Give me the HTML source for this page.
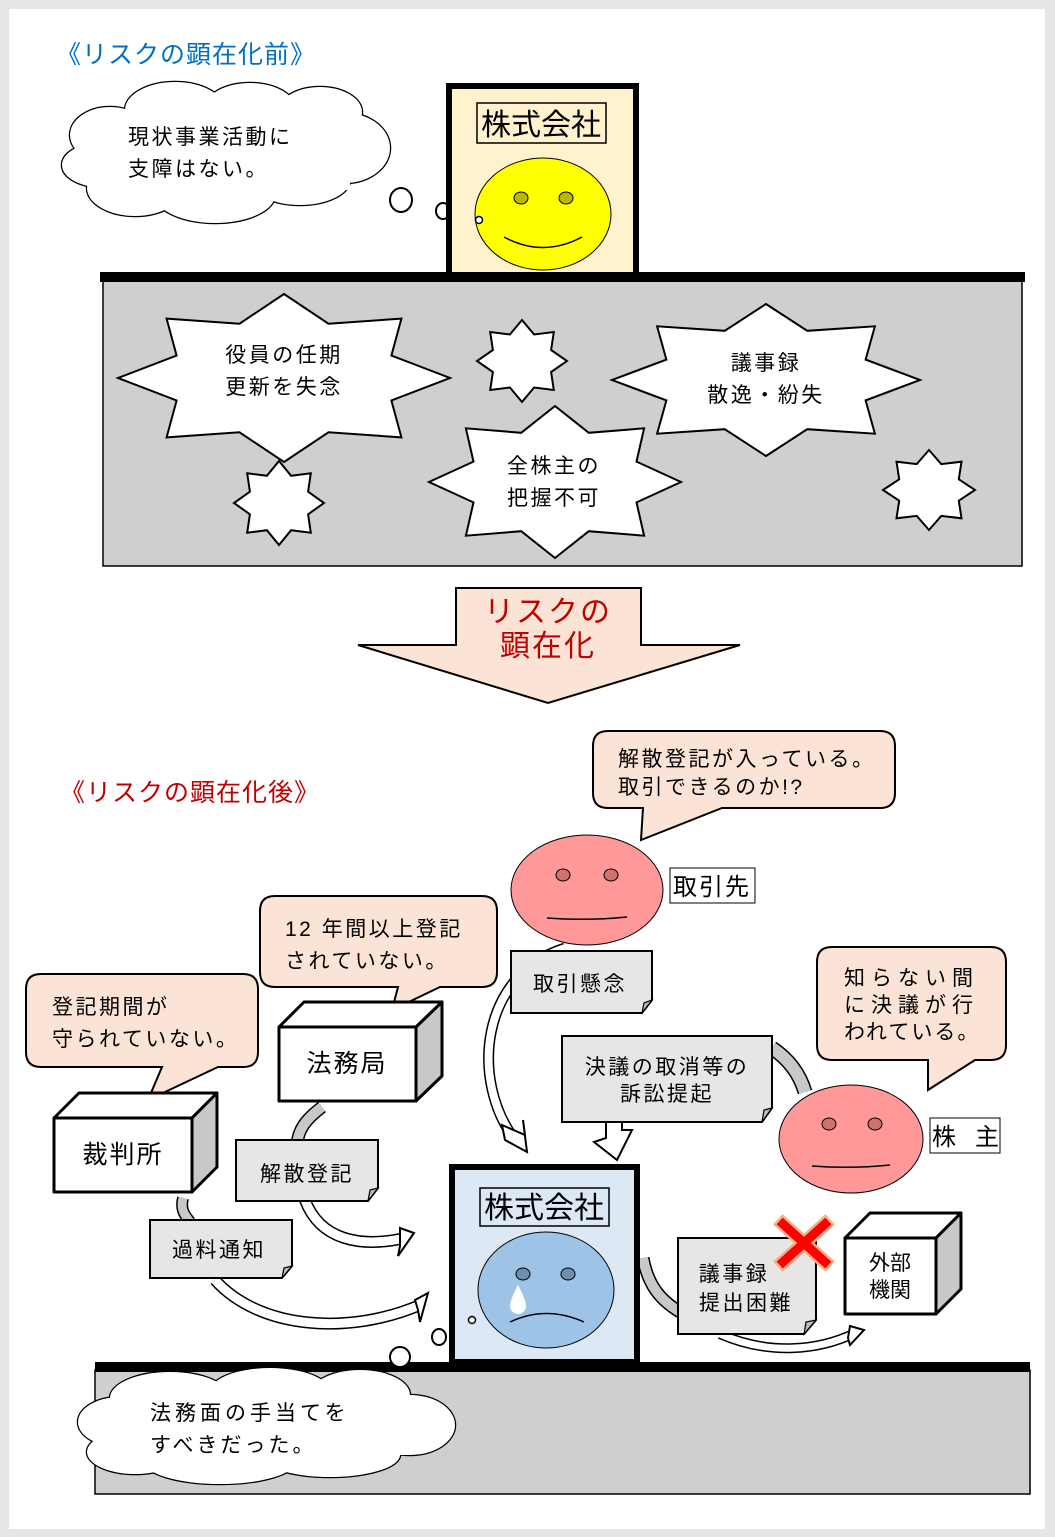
<!DOCTYPE html>
<html><head><meta charset="utf-8">
<style>
html,body{margin:0;padding:0;background:#e6e6e6;}
svg{display:block;}
text{font-family:"Liberation Sans","Noto Sans CJK JP",sans-serif;}
.t{letter-spacing:2.5px;}
</style></head>
<body>
<svg width="1055" height="1537" viewBox="0 0 1055 1537" xmlns="http://www.w3.org/2000/svg">
<rect x="0" y="0" width="1055" height="1537" fill="#e6e6e6"/>
<rect x="9" y="9" width="1036" height="1520" fill="#fff"/>

<!-- TOP -->
<text x="56" y="63" font-size="25" fill="#0070c0" letter-spacing="1">《リスクの顕在化前》</text>

<!-- cloud top -->
<g stroke="#000" stroke-width="2.5" fill="#fff">
<ellipse cx="110" cy="135" rx="40" ry="28"/>
<ellipse cx="100" cy="165" rx="38" ry="22"/>
<ellipse cx="135" cy="188" rx="48" ry="28"/>
<ellipse cx="215" cy="195" rx="60" ry="28"/>
<ellipse cx="300" cy="180" rx="50" ry="25"/>
<ellipse cx="345" cy="148" rx="45" ry="35"/>
<ellipse cx="320" cy="112" rx="42" ry="25"/>
<ellipse cx="250" cy="108" rx="45" ry="25"/>
<ellipse cx="175" cy="110" rx="50" ry="28"/>
</g>
<g fill="#fff">
<ellipse cx="110" cy="135" rx="40" ry="28"/>
<ellipse cx="100" cy="165" rx="38" ry="22"/>
<ellipse cx="135" cy="188" rx="48" ry="28"/>
<ellipse cx="215" cy="195" rx="60" ry="28"/>
<ellipse cx="300" cy="180" rx="50" ry="25"/>
<ellipse cx="345" cy="148" rx="45" ry="35"/>
<ellipse cx="320" cy="112" rx="42" ry="25"/>
<ellipse cx="250" cy="108" rx="45" ry="25"/>
<ellipse cx="175" cy="110" rx="50" ry="28"/>
<rect x="120" y="110" width="230" height="80"/>
</g>
<text class="t" x="128" y="144" font-size="21">現状事業活動に</text>
<text class="t" x="128" y="176" font-size="21">支障はない。</text>
<g fill="#fff" stroke="#000" stroke-width="2">
<ellipse cx="401" cy="200" rx="11" ry="12"/>
<ellipse cx="443" cy="211" rx="7" ry="8"/>
</g>

<!-- door top -->
<rect x="449" y="86" width="187" height="192" fill="#fff2cc" stroke="#000" stroke-width="6"/>
<rect x="477" y="103" width="129" height="40" fill="#fff2cc" stroke="#000" stroke-width="1.5"/>
<text x="541" y="135" font-size="30" text-anchor="middle">株式会社</text>
<ellipse cx="543" cy="214" rx="68" ry="56" fill="#ffff00" stroke="#000" stroke-width="1"/>
<ellipse cx="521" cy="198" rx="7" ry="6" fill="#b8b800" stroke="#000" stroke-width="1"/>
<ellipse cx="566" cy="198" rx="7" ry="6" fill="#b8b800" stroke="#000" stroke-width="1"/>
<path d="M504,237 Q543,258 582,237" fill="none" stroke="#000" stroke-width="1.5"/>
<circle cx="479" cy="220" r="3.5" fill="#fff" stroke="#000" stroke-width="1.5"/>

<!-- ground top -->
<rect x="103" y="281" width="919" height="285" fill="#d0cfd0" stroke="#000" stroke-width="1.5"/>
<rect x="100" y="272" width="925" height="10" fill="#000"/>

<g fill="#fff" stroke="#000" stroke-width="2" stroke-linejoin="miter">
<polygon points="284,294 328.5,323.7 401.4,318.6 391.4,355.5 450,378 391.4,400.5 401.4,437.4 328.5,432.3 284,462 239.5,432.3 166.6,437.4 176.6,400.5 118,378 176.6,355.5 166.6,318.6 239.5,323.7"/>
<polygon points="766,304 807.3,330.8 874.9,326.3 865.6,359.6 920,380 865.6,400.4 874.9,433.7 807.3,429.2 766,456 724.7,429.2 657.1,433.7 666.4,400.4 612,380 666.4,359.6 657.1,326.3 724.7,330.8"/>
<polygon points="555,406 588.8,432.8 644.1,428.3 636.5,461.6 681,482 636.5,502.4 644.1,535.7 588.8,531.2 555,558 521.2,531.2 465.9,535.7 473.5,502.4 429,482 473.5,461.6 465.9,428.3 521.2,432.8"/>
<polygon points="522,320 534.1,334.5 553.8,332 551.1,350 567,361 551.1,372 553.8,390 534.1,387.5 522,402 509.9,387.5 490.2,390 492.9,372 477,361 492.9,350 490.2,332 509.9,334.5"/>
<polygon points="279,461 291.1,475.8 310.8,473.3 308.1,491.7 324,503 308.1,514.3 310.8,532.7 291.1,530.2 279,545 266.9,530.2 247.2,532.7 249.9,514.3 234,503 249.9,491.7 247.2,473.3 266.9,475.8"/>
<polygon points="929,450 941.3,464.1 961.5,461.7 958.8,479.3 975,490 958.8,500.7 961.5,518.3 941.3,515.9 929,530 916.7,515.9 896.5,518.3 899.2,500.7 883,490 899.2,479.3 896.5,461.7 916.7,464.1"/>
</g>
<g font-size="21" text-anchor="middle" class="t">
<text x="284" y="362">役員の任期</text>
<text x="284" y="394">更新を失念</text>
<text x="766" y="370">議事録</text>
<text x="766" y="402">散逸・紛失</text>
<text x="554" y="473">全株主の</text>
<text x="554" y="505">把握不可</text>
</g>

<!-- big arrow -->
<polygon points="456,588 641,588 641,645 740,645 548,703 358,645 456,645" fill="#fbe4d5" stroke="#000" stroke-width="2"/>
<text x="548" y="622" font-size="30" fill="#c00000" text-anchor="middle" letter-spacing="2">リスクの</text>
<text x="548" y="656" font-size="30" fill="#c00000" text-anchor="middle" letter-spacing="2">顕在化</text>

<!-- BOTTOM -->
<text x="60" y="801" font-size="25" fill="#c00000" letter-spacing="1">《リスクの顕在化後》</text>

<!-- callouts -->
<g fill="#fbe4d5" stroke="#000" stroke-width="2">
<path d="M608,731 H880 Q895,731 895,746 V793 Q895,808 880,808 H722 L641,840 L643,808 H608 Q593,808 593,793 V746 Q593,731 608,731 Z"/>
<path d="M275,896 H482 Q497,896 497,911 V972 Q497,987 482,987 H440 L392,1010 L398,987 H275 Q260,987 260,972 V911 Q260,896 275,896 Z"/>
<path d="M41,974 H243 Q258,974 258,989 V1052 Q258,1067 243,1067 H218 L148,1100 L162,1067 H41 Q26,1067 26,1052 V989 Q26,974 41,974 Z"/>
<path d="M832,947 H991 Q1006,947 1006,962 V1045 Q1006,1060 991,1060 H975 L928,1090 L928,1060 H832 Q817,1060 817,1045 V962 Q817,947 832,947 Z"/>
</g>
<text class="t" x="618" y="766" font-size="21">解散登記が入っている。</text>
<text class="t" x="618" y="794" font-size="21">取引できるのか!?</text>
<text class="t" x="285" y="936" font-size="21">12 年間以上登記</text>
<text class="t" x="285" y="968" font-size="21">されていない。</text>
<text class="t" x="52" y="1014" font-size="21">登記期間が</text>
<text class="t" x="52" y="1046" font-size="21">守られていない。</text>
<text x="844" y="985" font-size="21" letter-spacing="6">知らない間</text>
<text x="844" y="1012" font-size="21" letter-spacing="6">に決議が行</text>
<text x="844" y="1039" font-size="21" letter-spacing="2">われている。</text>

<!-- curved connectors -->
<g fill="none" stroke-linecap="butt">
<path d="M565,948 C480,975 470,1080 515,1140" stroke="#000" stroke-width="11"/>
<path d="M565,948 C480,975 470,1080 515,1140" stroke="#fff" stroke-width="8"/>
<path d="M305,1200 C320,1240 360,1248 405,1238" stroke="#000" stroke-width="12"/>
<path d="M305,1200 C320,1240 360,1248 405,1238" stroke="#fff" stroke-width="9"/>
<path d="M215,1280 C260,1330 350,1335 420,1305" stroke="#000" stroke-width="12"/>
<path d="M215,1280 C260,1330 350,1335 420,1305" stroke="#fff" stroke-width="9"/>
<path d="M720,1334 C770,1356 820,1350 855,1333" stroke="#000" stroke-width="10"/>
<path d="M720,1334 C770,1356 820,1350 855,1333" stroke="#fff" stroke-width="7"/>
<path d="M772,1048 C790,1060 800,1075 805,1092" stroke="#000" stroke-width="15"/>
<path d="M772,1048 C790,1060 800,1075 805,1092" stroke="#c8c8c8" stroke-width="12"/>
<path d="M322,1107 C305,1120 298,1130 297,1145" stroke="#000" stroke-width="13"/>
<path d="M322,1107 C305,1120 298,1130 297,1145" stroke="#c8c8c8" stroke-width="10"/>
<path d="M183,1198 C180,1210 185,1215 190,1222" stroke="#000" stroke-width="12"/>
<path d="M183,1198 C180,1210 185,1215 190,1222" stroke="#c8c8c8" stroke-width="9"/>
<path d="M643,1258 C648,1285 660,1300 680,1312" stroke="#000" stroke-width="13"/>
<path d="M643,1258 C648,1285 660,1300 680,1312" stroke="#c8c8c8" stroke-width="10"/>
</g>
<g fill="#fff" stroke="#000" stroke-width="2">
<polygon points="502,1125 525,1135 523,1120 527,1152 505,1140"/>
<polygon points="400,1228 414,1233 398,1256 400,1246"/>
<polygon points="415,1300 428,1293 420,1322 418,1310"/>
<polygon points="850,1326 864,1330 850,1345 848,1338"/>
<polygon points="606,1122 622,1122 622,1130 632,1130 617,1160 594,1142 606,1138"/>
</g>

<!-- pink faces -->
<ellipse cx="587" cy="890" rx="76" ry="55" fill="#ff9999" stroke="#000" stroke-width="1"/>
<ellipse cx="563" cy="875" rx="7" ry="6" fill="#d07070" stroke="#000" stroke-width="1"/>
<ellipse cx="611" cy="875" rx="7" ry="6" fill="#d07070" stroke="#000" stroke-width="1"/>
<path d="M547,918 Q587,921 627,917" fill="none" stroke="#000" stroke-width="1.5"/>
<rect x="670" y="868" width="85" height="35" fill="#fff" stroke="#000" stroke-width="1"/>
<text x="673" y="895" font-size="24" letter-spacing="2">取引先</text>

<ellipse cx="851" cy="1139" rx="72" ry="54" fill="#ff9999" stroke="#000" stroke-width="1"/>
<ellipse cx="829" cy="1124" rx="7" ry="6" fill="#d07070" stroke="#000" stroke-width="1"/>
<ellipse cx="875" cy="1124" rx="7" ry="6" fill="#d07070" stroke="#000" stroke-width="1"/>
<path d="M812,1166 Q851,1169 890,1165" fill="none" stroke="#000" stroke-width="1.5"/>
<rect x="930" y="1118" width="70" height="35" fill="#fff" stroke="#000" stroke-width="1"/>
<text x="932" y="1145" font-size="24">株</text>
<text x="975" y="1145" font-size="24">主</text>

<!-- 3D boxes -->
<g stroke="#000" stroke-width="3" stroke-linejoin="round">
<polygon points="279,1027 304,1002 442,1002 416,1027" fill="#fff"/>
<polygon points="416,1027 442,1002 442,1076 416,1101" fill="#c8c8c8"/>
<rect x="279" y="1027" width="137" height="74" fill="#fff"/>
<polygon points="54,1118 79,1093 217,1093 192,1118" fill="#fff"/>
<polygon points="192,1118 217,1093 217,1167 192,1192" fill="#c8c8c8"/>
<rect x="54" y="1118" width="138" height="74" fill="#fff"/>
<polygon points="845,1238 870,1213 961,1213 936,1238" fill="#fff"/>
<polygon points="936,1238 961,1213 961,1289 936,1314" fill="#c8c8c8"/>
<rect x="845" y="1238" width="91" height="76" fill="#fff"/>
</g>
<text x="347" y="1072" font-size="25" text-anchor="middle" letter-spacing="2">法務局</text>
<text x="123" y="1163" font-size="25" text-anchor="middle" letter-spacing="2">裁判所</text>
<text x="890" y="1270" font-size="21" text-anchor="middle">外部</text>
<text x="890" y="1297" font-size="21" text-anchor="middle">機関</text>

<!-- notes -->
<g fill="#e6e6e6" stroke="#000" stroke-width="2">
<path d="M511,951 H652 V1000 L642,1013 H511 Z"/>
<path d="M562,1036 H772 V1108 L762,1122 H562 Z"/>
<path d="M236,1140 H378 V1188 L368,1201 H236 Z"/>
<path d="M150,1220 H292 V1266 L282,1278 H150 Z"/>
<path d="M678,1238 H816 V1320 L804,1334 H678 Z"/>
</g>
<g fill="#bbb" stroke="#000" stroke-width="1.2">
<path d="M652,1000 L642,1013 L644,1003 Z"/>
<path d="M772,1108 L762,1122 L764,1110 Z"/>
<path d="M378,1188 L368,1201 L370,1190 Z"/>
<path d="M292,1266 L282,1278 L284,1268 Z"/>
<path d="M816,1320 L804,1334 L806,1322 Z"/>
</g>
<g font-size="21" text-anchor="middle" class="t">
<text x="580" y="991">取引懸念</text>
<text x="667" y="1074">決議の取消等の</text>
<text x="667" y="1101">訴訟提起</text>
<text x="307" y="1181">解散登記</text>
<text x="219" y="1257">過料通知</text>
<text x="734" y="1281">議事録</text>
<text x="746" y="1310">提出困難</text>
</g>
<!-- red X -->
<g stroke-linecap="square">
<path d="M783,1224 L825,1262 M825,1224 L783,1262" stroke="#f4b183" stroke-width="14"/>
<path d="M783,1224 L825,1262 M825,1224 L783,1262" stroke="#ff0000" stroke-width="9"/>
</g>

<!-- ground bottom -->
<rect x="95" y="1370" width="935" height="124" fill="#d0cfd0" stroke="#000" stroke-width="1.5"/>
<rect x="95" y="1362" width="935" height="10" fill="#000"/>

<!-- door bottom -->
<rect x="452" y="1167" width="185" height="195" fill="#dde8f5" stroke="#000" stroke-width="6"/>
<rect x="480" y="1188" width="129" height="38" fill="#dde8f5" stroke="#000" stroke-width="1.5"/>
<text x="544" y="1218" font-size="30" text-anchor="middle">株式会社</text>
<ellipse cx="546" cy="1290" rx="68" ry="58" fill="#9dc3e6" stroke="#000" stroke-width="1"/>
<ellipse cx="523" cy="1274" rx="7" ry="6" fill="#6f8fb0" stroke="#000" stroke-width="1"/>
<ellipse cx="568" cy="1274" rx="7" ry="6" fill="#6f8fb0" stroke="#000" stroke-width="1"/>
<path d="M518,1285 Q510,1300 510,1306 A8,8 0 0 0 526,1306 Q526,1300 518,1285 Z" fill="#fff"/>
<path d="M510,1322 Q546,1305 584,1322" fill="none" stroke="#000" stroke-width="1.5"/>
<circle cx="472" cy="1320" r="3.5" fill="#fff" stroke="#000" stroke-width="1.5"/>

<!-- cloud bottom -->
<g stroke="#000" stroke-width="2.5" fill="#fff">
<ellipse cx="120" cy="1422" rx="42" ry="25"/>
<ellipse cx="135" cy="1452" rx="48" ry="22"/>
<ellipse cx="220" cy="1462" rx="75" ry="22"/>
<ellipse cx="330" cy="1455" rx="70" ry="22"/>
<ellipse cx="410" cy="1425" rx="45" ry="30"/>
<ellipse cx="360" cy="1395" rx="50" ry="25"/>
<ellipse cx="270" cy="1392" rx="60" ry="24"/>
<ellipse cx="170" cy="1398" rx="60" ry="26"/>
</g>
<g fill="#fff">
<ellipse cx="120" cy="1422" rx="42" ry="25"/>
<ellipse cx="135" cy="1452" rx="48" ry="22"/>
<ellipse cx="220" cy="1462" rx="75" ry="22"/>
<ellipse cx="330" cy="1455" rx="70" ry="22"/>
<ellipse cx="410" cy="1425" rx="45" ry="30"/>
<ellipse cx="360" cy="1395" rx="50" ry="25"/>
<ellipse cx="270" cy="1392" rx="60" ry="24"/>
<ellipse cx="170" cy="1398" rx="60" ry="26"/>
<rect x="130" y="1395" width="280" height="60"/>
</g>
<text x="150" y="1420" font-size="21" letter-spacing="4">法務面の手当てを</text>
<text x="150" y="1452" font-size="21" letter-spacing="3">すべきだった。</text>
<g fill="#fff" stroke="#000" stroke-width="2">
<ellipse cx="400" cy="1357" rx="10" ry="10"/>
<ellipse cx="439" cy="1337" rx="7" ry="8"/>
</g>
</svg>
</body></html>
